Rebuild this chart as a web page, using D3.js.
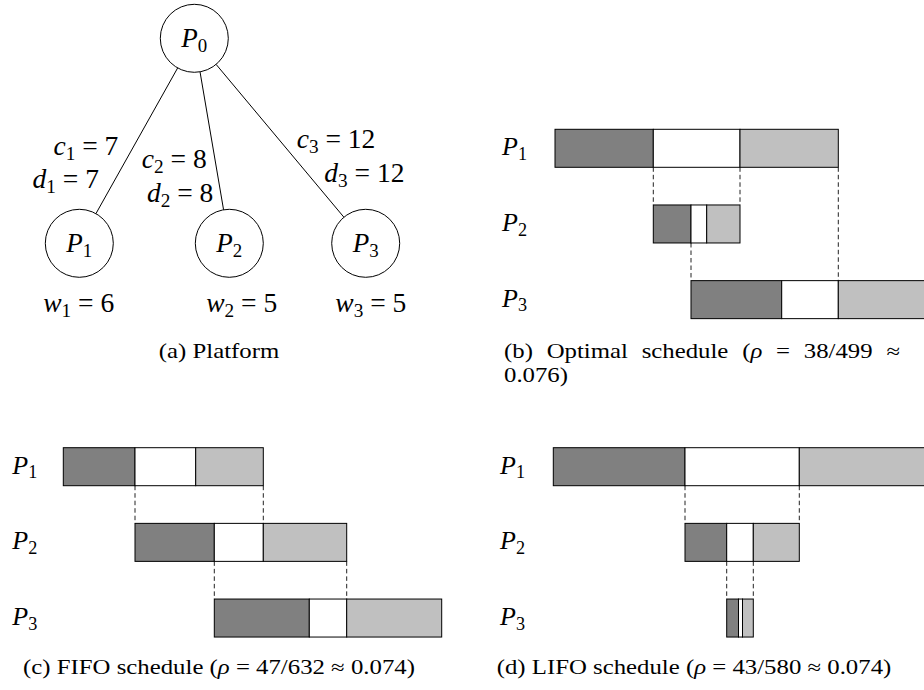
<!DOCTYPE html>
<html>
<head>
<meta charset="utf-8">
<script src="https://cdn.jsdelivr.net/npm/d3@7"></script>
<style>
  body { margin: 0; background: #fff; }
  text { font-family: "Liberation Serif", "Times New Roman", serif; fill: #000; }
</style>
</head>
<body>
<svg width="924" height="690"></svg>
<script>
// ---- platform (a) ----
var nodeIdx = [0, 1, 2, 3];
var cVals = [7, 8, 12];
var dVals = [7, 8, 12];
var wVals = [6, 5, 5];

// ---- schedules: per worker [start, end of send, end of compute, end of return] (time units) ----
var workers = ["1", "2", "3"];
var optBounds  = [[0, 9.83, 18.5, 28.33], [9.83, 13.6, 15.17, 18.5], [13.6, 22.67, 28.33, 37.4]];
var fifoBounds = [[0, 7.17, 13.24, 20.0], [7.17, 15.1, 20.0, 28.34], [15.1, 24.6, 28.34, 37.84]];
var lifoBounds = [[0, 13.17, 24.6, 37.77], [13.17, 17.34, 20.0, 24.6], [17.34, 18.52, 18.92, 20.0]];
// dashed links: [time, from row, to row]
var optLinks  = [[9.83, 0, 1], [18.5, 0, 1], [13.6, 1, 2], [28.33, 0, 2]];
var fifoLinks = [[7.17, 0, 1], [20.0, 0, 1], [15.1, 1, 2], [28.34, 1, 2]];
var lifoLinks = [[13.17, 0, 1], [24.6, 0, 1], [17.34, 1, 2], [20.0, 1, 2]];
var segColors = ["#808080", "#ffffff", "#c0c0c0"];

var svg = d3.select("svg");

// text with italic letters and subscripts
function mathText(parent, pieces, size) {
  var t = parent.append("text").attr("font-size", size);
  var shift = 0;
  pieces.forEach(function (p) {
    var ts = t.append("tspan").text(p.t);
    if (p.i) ts.attr("font-style", "italic");
    var dy = 0;
    if (p.sub) { ts.attr("font-size", size * 0.7); dy = size * 0.18; }
    if (dy !== shift) ts.attr("dy", dy - shift);
    shift = dy;
  });
  return t;
}
function sym(letter, idx) { return [{t: letter, i: 1}, {t: String(idx), sub: 1}]; }

// ---------- (a) platform tree ----------
var nx = d3.scaleOrdinal().domain(nodeIdx).range([194.3, 79.3, 229.3, 365.7]);
var ny = d3.scaleOrdinal().domain(nodeIdx).range([38.3, 243.3, 243.3, 243.3]);
var R = 34;

var tree = svg.append("g");
tree.selectAll("line").data(nodeIdx.slice(1)).enter().append("line")
  .each(function (i) {
    var dx = nx(i) - nx(0), dy = ny(i) - ny(0), L = Math.sqrt(dx * dx + dy * dy);
    d3.select(this)
      .attr("x1", nx(0) + dx / L * R).attr("y1", ny(0) + dy / L * R)
      .attr("x2", nx(i) - dx / L * R).attr("y2", ny(i) - dy / L * R);
  })
  .attr("stroke", "#000").attr("stroke-width", 1);

tree.selectAll("circle").data(nodeIdx).enter().append("circle")
  .attr("cx", nx).attr("cy", ny).attr("r", R)
  .attr("fill", "#fff").attr("stroke", "#000").attr("stroke-width", 1);

nodeIdx.forEach(function (i) {
  mathText(tree, sym("P", i), 27)
    .attr("x", nx(i)).attr("y", ny(i) + 9).attr("text-anchor", "middle");
});

var labSize = 27.5;
var cPos = [[118.3, 155, "end"], [206.7, 168, "end"], [296.7, 148.3, "start"]];
var dPos = [[99, 188.3, "end"], [213.3, 201.7, "end"], [324.3, 181.7, "start"]];
cVals.forEach(function (v, k) {
  mathText(tree, sym("c", k + 1).concat([{t: " = " + v}]), labSize)
    .attr("x", cPos[k][0]).attr("y", cPos[k][1]).attr("text-anchor", cPos[k][2]);
});
dVals.forEach(function (v, k) {
  mathText(tree, sym("d", k + 1).concat([{t: " = " + v}]), labSize)
    .attr("x", dPos[k][0]).attr("y", dPos[k][1]).attr("text-anchor", dPos[k][2]);
});
var wX = [78.7, 241.7, 370.8];
wVals.forEach(function (v, k) {
  mathText(tree, sym("w", k + 1).concat([{t: " = " + v}]), labSize)
    .attr("x", wX[k]).attr("y", 311.7).attr("text-anchor", "middle");
});

// ---------- schedules ----------
var rowStep = 75.67, barH = 38;
function schedule(bounds, links, x0, y0, labelX) {
  var g = svg.append("g");
  var x = d3.scaleLinear().domain([0, 10]).range([x0, x0 + 100]);
  var y = d3.scaleLinear().domain([0, 1]).range([y0, y0 + rowStep]);

  g.selectAll("line.link").data(links).enter().append("line")
    .attr("class", "link")
    .attr("x1", function (d) { return x(d[0]); }).attr("x2", function (d) { return x(d[0]); })
    .attr("y1", function (d) { return y(d[1]) + barH; }).attr("y2", function (d) { return y(d[2]); })
    .attr("stroke", "#222").attr("stroke-width", 1).attr("stroke-dasharray", "4.5,3");

  bounds.forEach(function (b, r) {
    g.selectAll(null).data([0, 1, 2]).enter().append("rect")
      .attr("x", function (s) { return x(b[s]); })
      .attr("width", function (s) { return x(b[s + 1]) - x(b[s]); })
      .attr("y", y(r)).attr("height", barH)
      .attr("fill", function (s) { return segColors[s]; })
      .attr("stroke", "#000").attr("stroke-width", 1);
    mathText(g, sym("P", workers[r]), 26)
      .attr("x", labelX).attr("y", y(r) + barH / 2 + 7);
  });
}
schedule(optBounds, optLinks, 555, 129.3, 502);
schedule(fifoBounds, fifoLinks, 63.3, 447.7, 12.3);
schedule(lifoBounds, lifoLinks, 553.3, 447.7, 500);

// ---------- captions ----------
var capSize = 20;
var capC = [{t: "(c) FIFO schedule ("}, {t: "ρ", i: 1}, {t: " = 47/632 ≈ 0.074)"}];
var capD = [{t: "(d) LIFO schedule ("}, {t: "ρ", i: 1}, {t: " = 43/580 ≈ 0.074)"}];
var capA = [{t: "(a) Platform"}];
var capB1 = [[{t: "(b)"}], [{t: "Optimal"}], [{t: "schedule"}], [{t: "("}, {t: "ρ", i: 1}], [{t: "="}], [{t: "38/499"}], [{t: "≈"}]];
var capB2 = [{t: "0.076)"}];

// horizontal stretch so the serif face matches the reference text widths
var probe = mathText(svg, capC, capSize);
var k = 392 / probe.node().getComputedTextLength();
probe.remove();

function caption(pieces, cx, y) {
  var g = svg.append("g").attr("transform", "translate(" + cx + "," + y + ") scale(" + k + ",1)");
  mathText(g, pieces, capSize).attr("text-anchor", "middle");
}
caption(capA, 219, 358);
caption(capC, 219, 674);
caption(capD, 694, 674);

// justified first line of caption (b)
(function () {
  var x0 = 504, x1 = 900, yb = 358;
  var widths = capB1.map(function (w) {
    var t = mathText(svg, w, capSize);
    var len = t.node().getComputedTextLength() * k;
    t.remove();
    return len;
  });
  var gap = (x1 - x0 - d3.sum(widths)) / (capB1.length - 1);
  var cur = x0;
  capB1.forEach(function (w, j) {
    var g = svg.append("g").attr("transform", "translate(" + cur + "," + yb + ") scale(" + k + ",1)");
    mathText(g, w, capSize);
    cur += widths[j] + gap;
  });
  var g2 = svg.append("g").attr("transform", "translate(" + x0 + "," + (yb + 24) + ") scale(" + k + ",1)");
  mathText(g2, capB2, capSize);
})();
</script>
</body>
</html>
